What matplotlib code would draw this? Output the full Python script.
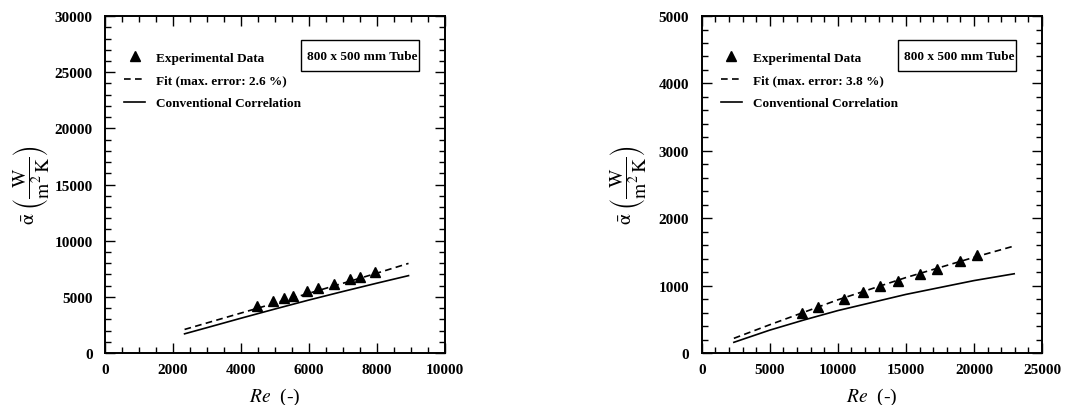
import matplotlib
matplotlib.use('Agg')
import matplotlib.pyplot as plt
from matplotlib.ticker import MultipleLocator
from matplotlib.lines import Line2D
from matplotlib.patches import Rectangle

plt.rcParams['font.family'] = ['Liberation Serif', 'DejaVu Serif']
plt.rcParams['mathtext.fontset'] = 'stix'

# left panel: 800x500 mm tube, low Re
re_exp_a = [4480, 4950, 5260, 5520, 5940, 6270, 6740, 7220, 7490, 7950]
alpha_exp_a = [4160, 4600, 4880, 5090, 5510, 5750, 6170, 6590, 6770, 7200]
re_fit_a = [2340, 3000, 4000, 5000, 6000, 7000, 8000, 8930]
alpha_fit_a = [2100, 2680, 3560, 4440, 5320, 6210, 7110, 7980]
alpha_conv_a = [1710, 2260, 3100, 3920, 4720, 5480, 6220, 6890]

# right panel: 800x500 mm tube, higher Re
re_exp_b = [7400, 8560, 10460, 11850, 13100, 14400, 16000, 17260, 18990, 20240]
alpha_exp_b = [596, 680, 804, 903, 988, 1072, 1171, 1250, 1360, 1449]
re_fit_b = [2360, 5000, 7500, 10000, 15000, 20000, 22950]
alpha_fit_b = [218, 420, 605, 790, 1120, 1420, 1588]
alpha_conv_b = [159, 340, 490, 630, 870, 1075, 1176]

panels = [
    dict(rect=[0.098, 0.128, 0.317, 0.830], re_exp=re_exp_a, a_exp=alpha_exp_a,
         re_fit=re_fit_a, a_fit=alpha_fit_a, a_conv=alpha_conv_a,
         xmax=10000, ymax=30000, xmaj=2000, xmin=500, ymaj=5000, ymin=1000, err='2.6'),
    dict(rect=[0.6546, 0.128, 0.3175, 0.830], re_exp=re_exp_b, a_exp=alpha_exp_b,
         re_fit=re_fit_b, a_fit=alpha_fit_b, a_conv=alpha_conv_b,
         xmax=25000, ymax=5000, xmaj=5000, xmin=1000, ymaj=1000, ymin=200, err='3.8'),
]

DASH = (0, (4, 2.6))
fig = plt.figure(figsize=(10.72, 4.06), dpi=100)

for p in panels:
    ax = fig.add_axes(p['rect'])
    ax.plot(p['re_fit'], p['a_fit'], color='black', linestyle=DASH, linewidth=1.2)
    ax.plot(p['re_fit'], p['a_conv'], color='black', linestyle='-', linewidth=1.2)
    ax.plot(p['re_exp'], p['a_exp'], linestyle='none', marker='^', color='black', markersize=6.5)

    ax.set_xlim(0, p['xmax'])
    ax.set_ylim(0, p['ymax'])
    ax.xaxis.set_major_locator(MultipleLocator(p['xmaj']))
    ax.xaxis.set_minor_locator(MultipleLocator(p['xmin']))
    ax.yaxis.set_major_locator(MultipleLocator(p['ymaj']))
    ax.yaxis.set_minor_locator(MultipleLocator(p['ymin']))
    ax.tick_params(which='both', direction='in', top=True, right=True, width=1.0)
    ax.tick_params(which='major', length=7, labelsize=11, pad=7)
    ax.tick_params(axis='y', which='major', pad=9)
    ax.tick_params(which='minor', length=4)
    for lab in ax.get_xticklabels() + ax.get_yticklabels():
        lab.set_fontweight('bold')
    for sp in ax.spines.values():
        sp.set_linewidth(1.4)

    ax.set_xlabel(r'$Re$  (-)', fontsize=14, labelpad=7)
    ax.set_ylabel(r'$\bar{\mathrm{\alpha}}\ \left(\dfrac{\mathrm{W}}{\mathrm{m^2\,K}}\right)$', fontsize=14)
    ax.yaxis.set_label_coords(-0.155, 0.5)

    handles = [
        Line2D([], [], linestyle='none', marker='^', color='black', markersize=6.5),
        Line2D([], [], color='black', linestyle=DASH, linewidth=1.2),
        Line2D([], [], color='black', linestyle='-', linewidth=1.2),
    ]
    labels = ['Experimental Data', 'Fit (max. error: %s %%)' % p['err'], 'Conventional Correlation']
    ax.legend(handles, labels, loc='upper left', bbox_to_anchor=(0.056, 0.895), frameon=False,
              prop={'weight': 'bold', 'size': 9.5}, handlelength=1.6, handletextpad=0.85,
              labelspacing=0.8, borderaxespad=0, borderpad=0)

    ax.add_patch(Rectangle((0.5756, 0.836), 0.347, 0.094, transform=ax.transAxes,
                           facecolor='white', edgecolor='black', linewidth=1.0, zorder=3))
    ax.text(0.757, 0.881, '800 x 500 mm Tube', transform=ax.transAxes, ha='center', va='center',
            fontsize=9.5, fontweight='bold', zorder=4)

plt.savefig('out.png', dpi=100)
